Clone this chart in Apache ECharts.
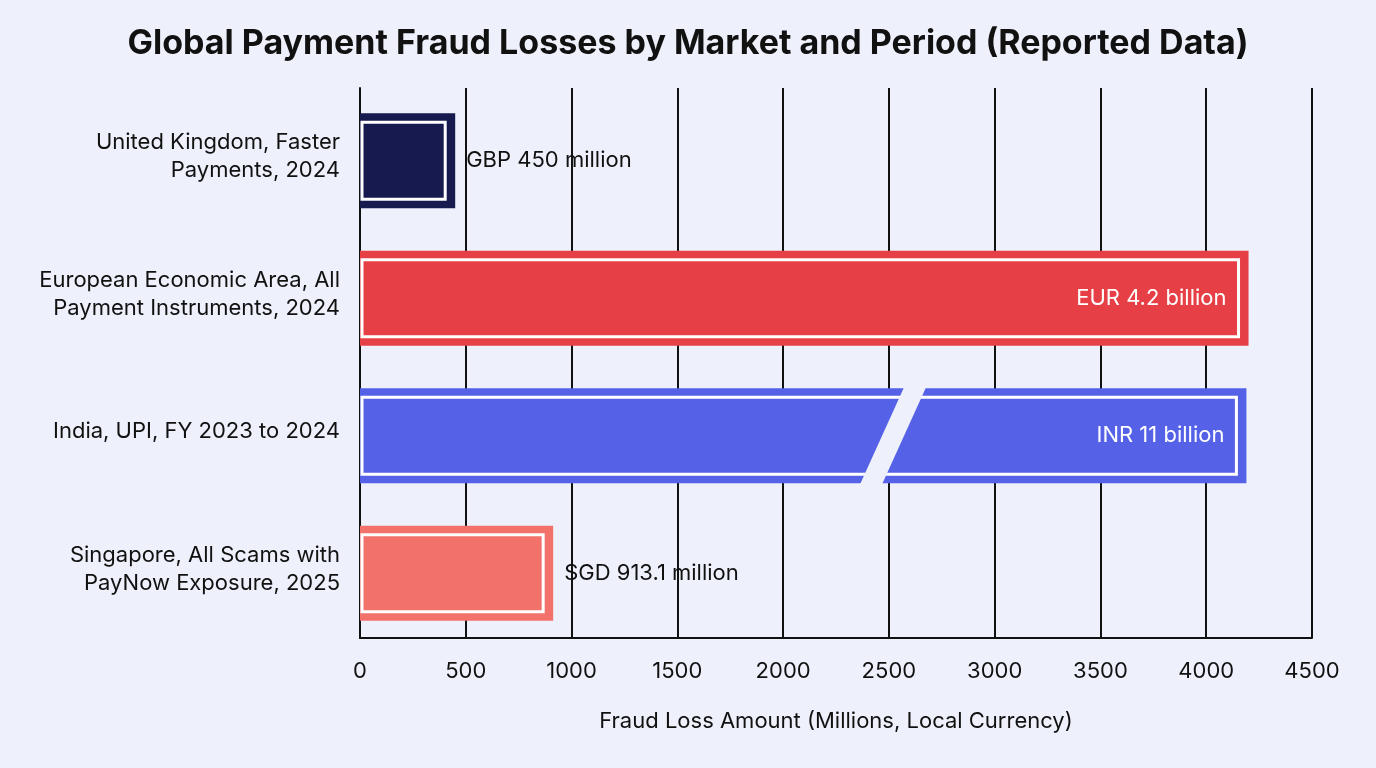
<!DOCTYPE html>
<html lang="en">
<head>
  <meta charset="UTF-8">
  <script src="https://cdn.jsdelivr.net/npm/echarts@6/dist/echarts.min.js"></script>
  <style>
    html, body { margin: 0; padding: 0; background: #eef1fb; }
    #chart { width: 1376px; height: 768px; }
  </style>
</head>
<body>
  <div id="chart"></div>
  <script>
    // categories, top to bottom
    const markets = [
      'United Kingdom, Faster\nPayments, 2024',
      'European Economic Area, All\nPayment Instruments, 2024',
      'India, UPI, FY 2023 to 2024',
      'Singapore, All Scams with\nPayNow Exposure, 2025'
    ];
    // drawn length in millions (India is shown broken, real value 11000)
    const drawnValues = [450, 4200, 4190, 913.1];
    const valueLabels = ['GBP 450 million', 'EUR 4.2 billion', 'INR 11 billion', 'SGD 913.1 million'];
    const labelInside = [false, true, true, false];
    const breakAt = [null, null, 2515, null];
    const barColors = ['#161a4e', '#e63f46', '#5561e6', '#f3716b'];
    const bg = '#eef1fb';

    const chart = echarts.init(document.getElementById('chart'));

    function renderBar(params, api) {
      const idx = api.value(0);
      const val = api.value(1);
      const p0 = api.coord([0, idx]);
      const p1 = api.coord([val, idx]);
      const h = api.size([0, 1])[1] * 0.69;
      const x0 = p0[0], x1 = p1[0], cy = p0[1] + 4, top = cy - h / 2;
      const children = [
        { type: 'rect', shape: { x: x0, y: top, width: x1 - x0, height: h }, style: { fill: barColors[idx] } },
        { type: 'rect', shape: { x: x0 + 2, y: top + 9, width: x1 - x0 - 12, height: h - 18 },
          style: { fill: null, stroke: '#fff', lineWidth: 3 } }
      ];
      if (breakAt[idx] != null) {
        const bx = api.coord([breakAt[idx], idx])[0];
        children.push({ type: 'polygon', shape: { points: [
          [bx + 12, top - 1], [bx + 34, top - 1], [bx - 10, top + h + 1], [bx - 32, top + h + 1]
        ] }, style: { fill: bg } });
      }
      const inside = labelInside[idx];
      children.push({ type: 'text', style: {
        text: valueLabels[idx], x: inside ? x1 - 22 : x1 + 11, y: cy,
        align: inside ? 'right' : 'left', verticalAlign: 'middle',
        fill: inside ? '#fff' : '#111', fontSize: 22, fontFamily: 'Inter'
      } });
      return { type: 'group', children: children };
    }

    chart.setOption({
      backgroundColor: bg,
      textStyle: { fontFamily: 'Inter' },
      title: {
        text: 'Global Payment Fraud Losses by Market and Period (Reported Data)',
        left: 'center', top: 22,
        textStyle: { fontSize: 34, fontWeight: 'bold', color: '#111', fontFamily: 'Inter' }
      },
      grid: { left: 360, right: 64, top: 88, bottom: 130 },
      xAxis: {
        type: 'value', min: 0, max: 4500, interval: 500,
        name: 'Fraud Loss Amount (Millions, Local Currency)',
        nameLocation: 'middle', nameGap: 72,
        nameTextStyle: { fontSize: 22, color: '#111' },
        axisLine: { show: true, lineStyle: { color: '#111', width: 2 } },
        axisTick: { show: false },
        axisLabel: { fontSize: 22, color: '#111', margin: 22, formatter: v => String(v) },
        splitLine: { show: true, lineStyle: { color: '#111', width: 2 } }
      },
      yAxis: {
        type: 'category', data: markets, inverse: true,
        axisLine: { show: true, lineStyle: { color: '#111', width: 2 } },
        axisTick: { show: false },
        axisLabel: { fontSize: 22, color: '#111', margin: 20, lineHeight: 28, align: 'right' }
      },
      series: [{
        type: 'custom',
        renderItem: renderBar,
        encode: { x: 1, y: 0 },
        data: drawnValues.map((v, i) => [i, v]),
        z: 5
      }]
    });
  </script>
</body>
</html>
